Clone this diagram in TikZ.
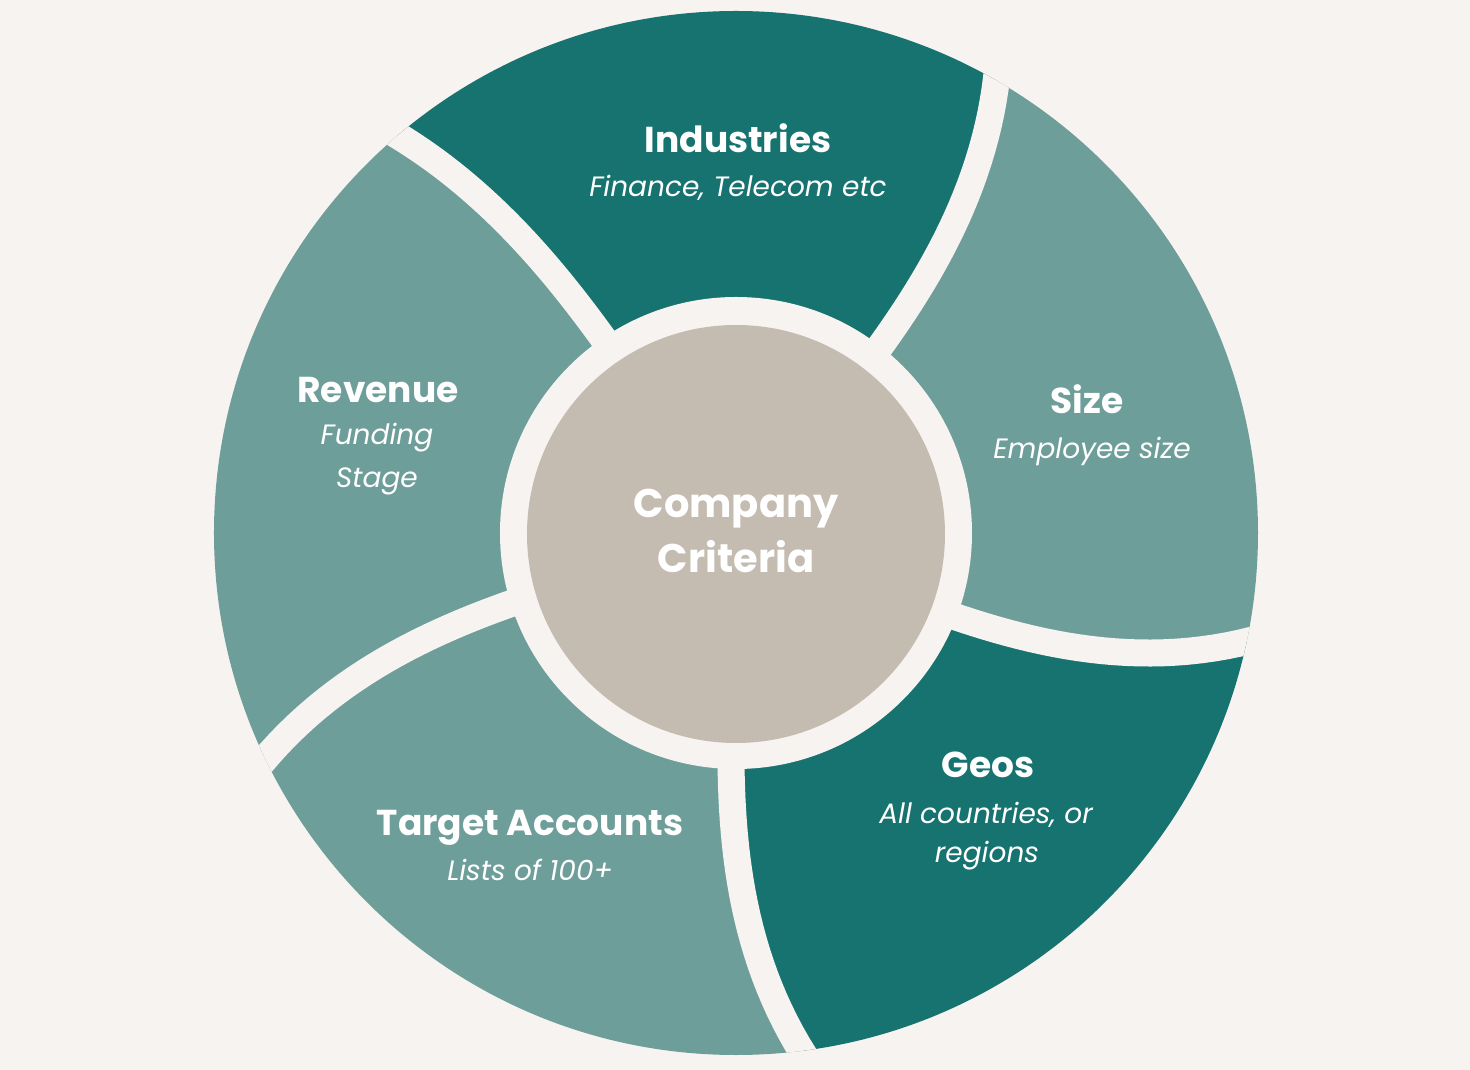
\documentclass[tikz,border=0pt]{standalone}
\usepackage{fontspec}
\setmainfont{Poppins}
\definecolor{bgc}{RGB}{247,243,240}
\definecolor{darkteal}{RGB}{23,115,111}
\definecolor{lightteal}{RGB}{110,158,154}
\definecolor{core}{RGB}{196,187,177}
\begin{document}
\begin{tikzpicture}[x=1pt,y=1pt,
  title/.style={text=white, anchor=base, inner sep=0pt, font=\bfseries\fontsize{36}{42}\selectfont},
  sub/.style={text=white, anchor=base, inner sep=0pt, font=\itshape\fontsize{28}{40}\selectfont},
  centre/.style={text=white, anchor=base, inner sep=0pt, font=\bfseries\fontsize{40}{46}\selectfont}]
\useasboundingbox[fill=bgc] (-736,-537) rectangle (734,533);
\begin{scope}
  \clip (0,0) circle[radius=522];
  \foreach \ai/\da/\bi/\db/\col in {52.3/7.8/124.3/6.1/darkteal, 124.3/6.1/197.4/8.2/lightteal, 197.4/8.2/268.8/8.4/lightteal, 268.8/8.4/339.1/8.9/darkteal, 339.1/8.9/412.3/7.8/lightteal}{
    \fill[\col] plot[domain=-0.1:1.1,samples=30,variable=\t] ({\ai+\da*(0.3*\t+0.7*\t*\t)}:{235+287*\t})
      arc[start angle={\ai+\da*1.177}, end angle={\bi+\db*1.177}, radius={235+287*1.1}]
      -- plot[domain=1.1:-0.1,samples=30,variable=\t] ({\bi+\db*(0.3*\t+0.7*\t*\t)}:{235+287*\t}) -- cycle;
  }
  \foreach \ai/\da in {52.3/7.8, 124.3/6.1, 197.4/8.2, 268.8/8.4, 339.1/8.9}{
    \draw[bgc, line width=27] plot[domain=-0.1:1.1,samples=30,variable=\t] ({\ai+\da*(0.3*\t+0.7*\t*\t)}:{235+287*\t});
  }
\end{scope}
\fill[bgc] (0,0) circle[radius=236];
\node[circle, fill=core, minimum size=418, inner sep=0pt] (core) at (0,-1) {};
\node[centre] (c1) at (0,15) {Company};
\node[centre] (c2) at (0,-40) {Criteria};
\node[title] (ind) at (2,380) {Industries};
\node[sub] (inds) at (2,336) {Finance, Telecom etc};
\node[title] (size) at (351,119) {Size};
\node[sub] (sizes) at (356,74) {Employee size};
\node[title] (rev) at (-358,130) {Revenue};
\node[sub] (revs1) at (-359,88) {Funding};
\node[sub] (revs2) at (-359,45) {Stage};
\node[title] (geo) at (252,-244) {Geos};
\node[sub] (geos1) at (250,-290) {All countries, or};
\node[sub] (geos2) at (251,-329) {regions};
\node[title] (tgt) at (-206,-302) {Target Accounts};
\node[sub] (tgts) at (-206,-347) {Lists of 100+};
\end{tikzpicture}
\end{document}
